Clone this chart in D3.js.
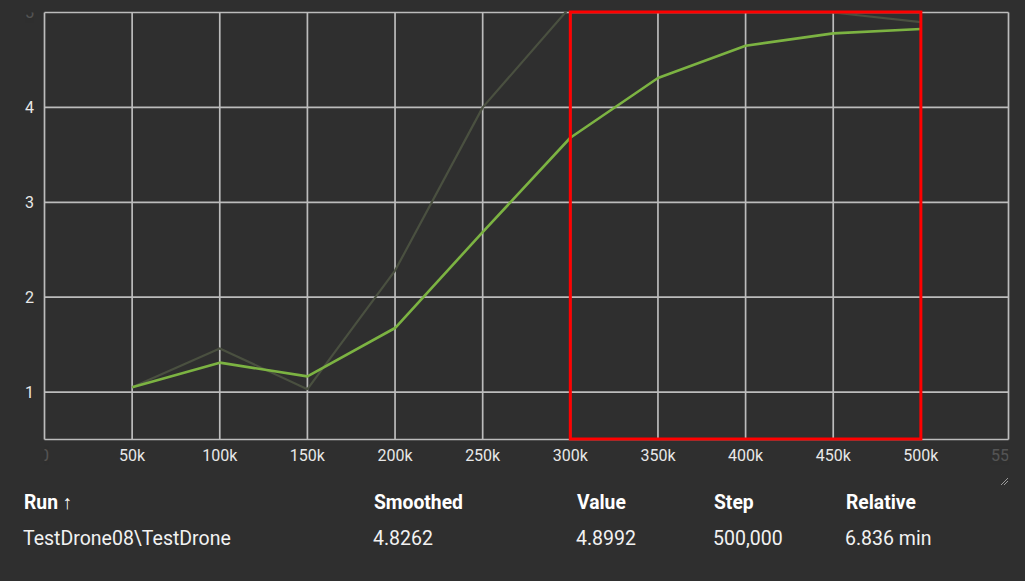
<!DOCTYPE html>
<html><head><meta charset="utf-8">
<script src="https://cdn.jsdelivr.net/npm/d3@7"></script>
<style>html,body{margin:0;padding:0;background:#2f2f2f;overflow:hidden}</style>
</head><body><svg id="c" width="1025" height="581"></svg>
<script>
// ---- data ----
const steps = [50000,100000,150000,200000,250000,300000,350000,400000,450000,500000];
const smoothedValues = [1.05,1.31,1.165,1.675,2.685,3.68,4.31,4.65,4.78,4.8262];
const rawValues = [1.05,1.46,1.03,2.28,4.0,5.06,5.2,5.15,5.0,4.8992];
const xTicks = [0,50000,100000,150000,200000,250000,300000,350000,400000,450000,500000,550000];
const xTickLabels = ["0","50k","100k","150k","200k","250k","300k","350k","400k","450k","500k","550k"];
const yTicks = [1,2,3,4,5];
const yTickLabels = ["1","2","3","4","5"];
const highlightRange = [300000,500000];
const tableHeaders = ["Run \u2191","Smoothed","Value","Step","Relative"];
const tableRow = ["TestDrone08\\TestDrone","4.8262","4.8992","500,000","6.836 min"];

// ---- layout ----
const L=44.5, R=1008.5, T=12.5, B=439.5;
const svg = d3.select("#c");
svg.append("rect").attr("width",1025).attr("height",581).attr("fill","#2f2f2f");
const x = d3.scaleLinear().domain([0,550000]).range([L,R]);
const y = d3.scaleLinear().domain([0.5,5]).range([B,T]);

const defs = svg.append("defs");
defs.append("clipPath").attr("id","plot").append("rect").attr("x",L).attr("y",T-1).attr("width",R-L).attr("height",B-T+1);
defs.append("clipPath").attr("id","xl").append("rect").attr("x",L).attr("y",440).attr("width",R-L).attr("height",40);
defs.append("clipPath").attr("id","yl").append("rect").attr("x",0).attr("y",T).attr("width",L).attr("height",B-T);

const gridColor="#bcbcbc";
// grid
svg.append("g").selectAll("line").data(xTicks).join("line")
  .attr("x1",d=>x(d)).attr("x2",d=>x(d)).attr("y1",T).attr("y2",B)
  .attr("stroke",gridColor).attr("stroke-width",1.7);
svg.append("g").selectAll("line").data(yTicks).join("line")
  .attr("x1",L).attr("x2",R).attr("y1",d=>y(d)).attr("y2",d=>y(d))
  .attr("stroke",gridColor).attr("stroke-width",1.7);
svg.append("line").attr("x1",L).attr("x2",R).attr("y1",B).attr("y2",B).attr("stroke",gridColor).attr("stroke-width",1.7);

// lines
const line = d3.line().x((d,i)=>x(steps[i])).y(d=>y(d));
const pg = svg.append("g").attr("clip-path","url(#plot)");
pg.append("path").datum(rawValues).attr("d",line).attr("fill","none")
  .attr("stroke","#4a5040").attr("stroke-width",2.2).attr("stroke-linejoin","round");
pg.append("path").datum(smoothedValues).attr("d",line).attr("fill","none")
  .attr("stroke","#7cb342").attr("stroke-width",2.6).attr("stroke-linejoin","round");

// highlight box
svg.append("rect").attr("x",x(highlightRange[0])).attr("y",T-0.5)
  .attr("width",x(highlightRange[1])-x(highlightRange[0])).attr("height",B-T)
  .attr("fill","none").attr("stroke","#ff0000").attr("stroke-width",3);

// x labels
const xl = svg.append("g").attr("clip-path","url(#xl)");
xl.selectAll("text").data(xTicks).join("text")
  .attr("x",d=>x(d)).attr("y",461).attr("text-anchor","middle")
  .attr("font-family","Roboto").attr("font-size",16)
  .attr("fill","#e8e8e8")
  .attr("opacity",(d,i)=> (i===0||i===xTicks.length-1)?0.2:1)
  .text((d,i)=>xTickLabels[i]);
// y labels
const yl = svg.append("g").attr("clip-path","url(#yl)");
yl.selectAll("text").data(yTicks).join("text")
  .attr("x",34).attr("y",d=>y(d)).attr("dy","0.36em").attr("text-anchor","end")
  .attr("font-family","Roboto").attr("font-size",16)
  .attr("fill","#e8e8e8")
  .attr("opacity",(d,i)=> i===yTicks.length-1?0.2:1)
  .text((d,i)=>yTickLabels[i]);

// resize handle
svg.append("line").attr("x1",1001).attr("y1",485).attr("x2",1008).attr("y2",478).attr("stroke","#9a9a9a").attr("stroke-width",1);
svg.append("line").attr("x1",1004).attr("y1",485).attr("x2",1008).attr("y2",481).attr("stroke","#9a9a9a").attr("stroke-width",1);

// table
const colX = [24,374,577,714,846];
svg.append("g").selectAll("text").data(tableHeaders).join("text")
  .attr("x",(d,i)=>colX[i]).attr("y",509)
  .attr("font-family","Roboto").attr("font-weight","bold").attr("font-size",19.3)
  .attr("fill","#ffffff").text(d=>d);
svg.append("g").selectAll("text").data(tableRow).join("text")
  .attr("x",(d,i)=>colX[i]-1).attr("y",545)
  .attr("font-family","Roboto").attr("font-size",19.5)
  .attr("fill","#f2f2f2").text(d=>d);
</script></body></html>
